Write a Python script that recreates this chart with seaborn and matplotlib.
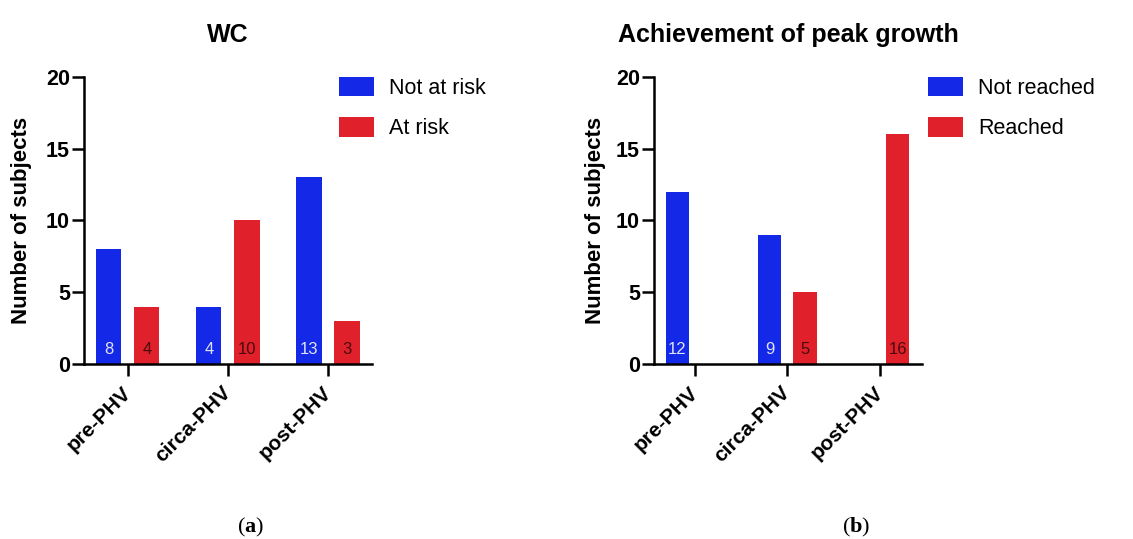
import seaborn as sns
import pandas as pd
import matplotlib.pyplot as plt

# Data
stages = ["pre-PHV", "circa-PHV", "post-PHV"]

wc_groups = ["Not at risk", "At risk"]
wc_not_at_risk = [8, 4, 13]
wc_at_risk = [4, 10, 3]

peak_groups = ["Not reached", "Reached"]
peak_not_reached = [12, 9, 0]
peak_reached = [0, 5, 16]

BLUE = "#1428e8"
RED = "#e0212b"
BLUE_TXT = "#dfe3f7"
RED_TXT = "#4a0a0a"

sns.set_style("ticks")
plt.rcParams["font.family"] = ["Liberation Sans", "DejaVu Sans"]
plt.rcParams["mathtext.fontset"] = "custom"
plt.rcParams["mathtext.bf"] = "Liberation Serif:bold"
plt.rcParams["mathtext.rm"] = "Liberation Serif"
for key in ["text.color", "axes.labelcolor", "xtick.color", "ytick.color"]:
    plt.rcParams[key] = "black"


def long_form(groups, first, second):
    return pd.DataFrame(
        {
            "stage": stages * 2,
            "group": [groups[0]] * 3 + [groups[1]] * 3,
            "count": list(first) + list(second),
        }
    )


def draw_panel(ax, df, groups, title, xlim, legend_x):
    sns.barplot(
        data=df,
        x="stage",
        y="count",
        hue="group",
        order=stages,
        hue_order=groups,
        palette=[BLUE, RED],
        saturation=1,
        width=0.76,
        gap=0.34,
        linewidth=0,
        ax=ax,
    )

    # value labels near the bottom of each bar
    for container, colour in zip(ax.containers, [BLUE_TXT, RED_TXT]):
        for bar in container:
            h = bar.get_height()
            if h > 0:
                ax.text(
                    bar.get_x() + bar.get_width() / 2,
                    1.0,
                    f"{int(h)}",
                    ha="center",
                    va="center",
                    color=colour,
                    fontsize=12,
                )

    ax.set_ylim(0, 20)
    ax.set_xlim(*xlim)
    ax.set_yticks([0, 5, 10, 15, 20])
    ax.set_title(title, fontsize=18, fontweight="bold", pad=25)
    ax.set_xlabel("")
    ax.set_ylabel("Number of subjects", fontsize=16, fontweight="bold")
    ax.yaxis.set_label_coords(-0.18, 0.5)

    sns.despine(ax=ax)
    for side in ["left", "bottom"]:
        ax.spines[side].set_linewidth(1.8)
        ax.spines[side].set_color("black")
    ax.tick_params(axis="both", length=8.5, width=1.8, color="black")
    ax.tick_params(axis="y", labelsize=15.5, pad=1.5)
    ax.tick_params(axis="x", labelsize=15, pad=10)
    for lab in ax.get_yticklabels():
        lab.set_fontweight("bold")
    for lab in ax.get_xticklabels():
        lab.set_fontweight("bold")
        lab.set_rotation(45)
        lab.set_ha("right")
        lab.set_va("center")
        lab.set_rotation_mode("anchor")

    sns.move_legend(
        ax,
        "upper left",
        bbox_to_anchor=(legend_x, 1.0),
        title=None,
        frameon=False,
        fontsize=15.5,
        handlelength=1.63,
        handleheight=1.0,
        handletextpad=0.7,
        labelspacing=0.85,
        borderpad=0,
        borderaxespad=0,
    )


fig = plt.figure(figsize=(11.33, 5.39), dpi=100)
ax_a = fig.add_axes([0.0741, 0.3247, 0.2542, 0.5325])
ax_b = fig.add_axes([0.5772, 0.3247, 0.2365, 0.5325])

draw_panel(
    ax_a,
    long_form(wc_groups, wc_not_at_risk, wc_at_risk),
    wc_groups,
    "WC",
    (-0.44, 2.44),
    0.885,
)
draw_panel(
    ax_b,
    long_form(peak_groups, peak_not_reached, peak_reached),
    peak_groups,
    "Achievement of peak growth",
    (-0.443, 2.454),
    1.022,
)

fig.text(251 / 1133, 1 - 527 / 539, r"($\mathbf{a}$)", ha="center", va="center",
         fontsize=16, family="Liberation Serif")
fig.text(856 / 1133, 1 - 527 / 539, r"($\mathbf{b}$)", ha="center", va="center",
         fontsize=16, family="Liberation Serif")

fig.savefig("out.png", dpi=100)
